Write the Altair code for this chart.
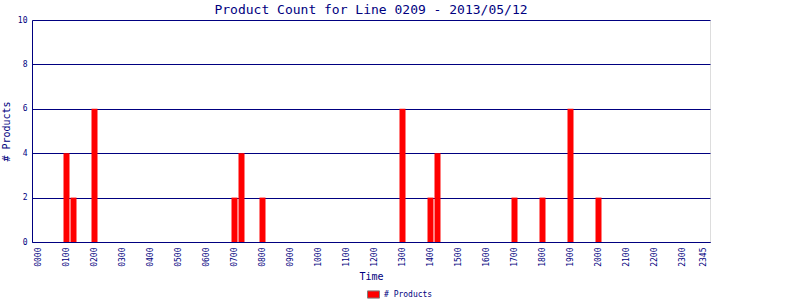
import altair as alt
import pandas as pd

# 15-minute time slots shown on the x axis (categories)
hours = ["%02d" % h for h in range(24)]
quarters = ["00", "15", "30", "45"]
all_slots = [h + q for h in hours for q in quarters]

# axis labels shown
tick_labels = ["0000", "0100", "0200", "0300", "0400", "0500", "0600", "0700",
               "0800", "0900", "1000", "1100", "1200", "1300", "1400", "1500",
               "1600", "1700", "1800", "1900", "2000", "2100", "2200", "2300", "2345"]

# non-zero product counts
times = ["0100", "0115", "0200", "0700", "0715", "0800", "1300",
         "1400", "1415", "1700", "1800", "1900", "2000"]
counts = [4, 2, 6, 2, 4, 2, 6, 2, 4, 2, 2, 6, 2]

series_name = "# Products"
y_ticks = [0, 2, 4, 6, 8, 10]

df = pd.DataFrame({"time": times, "count": counts, "series": [series_name] * len(times)})

NAVY = "#000080"
FONT = "DejaVu Sans Mono"

chart = alt.Chart(df).mark_bar().encode(
    x=alt.X("time:N",
            scale=alt.Scale(domain=all_slots, paddingInner=1/7, paddingOuter=0.5),
            axis=alt.Axis(values=tick_labels, labelAngle=270, title="Time",
                          labelFont=FONT, labelFontSize=8, labelColor=NAVY,
                          titleFont=FONT, titleFontSize=10, titleColor=NAVY,
                          titleFontWeight="normal", titlePadding=5,
                          ticks=False, labelPadding=5, domainColor=NAVY, grid=False)),
    y=alt.Y("count:Q",
            scale=alt.Scale(domain=[0, 10], nice=False),
            axis=alt.Axis(values=y_ticks, title="# Products",
                          labelFont=FONT, labelFontSize=8, labelColor=NAVY,
                          titleFont=FONT, titleFontSize=10, titleColor=NAVY,
                          titleFontWeight="normal", titlePadding=6,
                          ticks=False, labelPadding=5, domainColor=NAVY,
                          grid=True, gridColor=NAVY, gridOpacity=1, gridWidth=1)),
    color=alt.Color("series:N",
                    scale=alt.Scale(domain=[series_name], range=["#ff0000"]),
                    legend=alt.Legend(title=None, orient="none", legendX=335, legendY=268,
                                      symbolType="M-1,-0.6H1V0.6H-1Z", symbolSize=144,
                                      symbolStrokeColor="#808080", symbolStrokeWidth=1,
                                      labelFont=FONT, labelFontSize=8, labelColor=NAVY,
                                      labelOffset=4)),
).properties(
    width=678,
    height=222,
    title=alt.Title("Product Count for Line 0209 - 2013/05/12",
                    font=FONT, fontSize=13, fontWeight="normal", color=NAVY,
                    anchor="middle", offset=-1),
    autosize=alt.AutoSizeParams(type="none"),
    padding={"left": 32, "top": 20, "right": 90, "bottom": 58},
).configure_view(
    stroke=NAVY, strokeWidth=1
).configure(background="white")

chart.save("out.html", embed_options={"renderer": "svg", "actions": False})
